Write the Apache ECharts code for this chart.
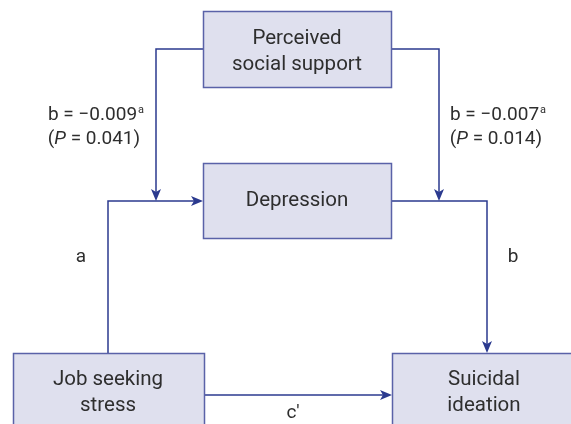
<!DOCTYPE html>
<html>
<head>
<meta charset="utf-8">
<script src="https://cdn.jsdelivr.net/npm/echarts@6/dist/echarts.min.js"></script>
<style>
html,body{margin:0;padding:0;background:#fff;}
#main{width:571px;height:424px;}
</style>
</head>
<body>
<div id="main"></div>
<script>
// ---- Content (text) ----
const nodeNames = ['Perceived\nsocial support', 'Depression', 'Job seeking\nstress', 'Suicidal\nideation'];
const pathNames = ['a', 'b', 'c′'];
const moderationB = ['−0.009', '−0.007'];
const moderationP = ['0.041', '0.014'];
const moderationSup = ['a', 'a'];

// ---- Layout (diagram units on hidden axes) ----
const boxLayout = [
  [203, 11, 391, 87],
  [203, 163, 391, 238],
  [13, 353, 204, 440],
  [392, 353, 590, 440]
];
const textCenters = [[297, 52], [297, 201], [108, 393], [484, 393]];
const edgeLayout = [
  [[203, 49], [156, 49], [156, 201]],
  [[391, 49], [439, 49], [439, 201]],
  [[108, 353], [108, 201], [203, 201]],
  [[391, 201], [487, 201], [487, 353]],
  [[204, 395], [392, 395]]
];
const pathLabelPos = [[81, 257], [513, 257], [293, 413]];
const modLabelPos = [[96, 115], [498, 115]];

const BOX_FILL = '#dfe0ee';
const BOX_STROKE = '#5a62a8';
const LINE = '#2b3a8f';
const TEXT = '#2e2e2e';
const FONT = 'Roboto, "Noto Sans", sans-serif';

const chart = echarts.init(document.getElementById('main'), null, {renderer: 'canvas'});

const boxData = nodeNames.map((n, i) => ({value: [i], name: n}));
const edgeData = edgeLayout.map((e, i) => ({value: [i]}));

const option = {
  animation: false,
  grid: {left: 0, right: 0, top: 0, bottom: 0},
  xAxis: {type: 'value', min: 0, max: 571, show: false},
  yAxis: {type: 'value', min: 0, max: 424, inverse: true, show: false},
  series: [
    {
      type: 'custom',
      coordinateSystem: 'cartesian2d',
      data: edgeData,
      clip: false,
      renderItem: function (params, api) {
        const pts = edgeLayout[api.value(0)].map(p => api.coord(p));
        const n = pts.length;
        const a = pts[n - 2], b = pts[n - 1];
        const dx = b[0] - a[0], dy = b[1] - a[1];
        const len = Math.sqrt(dx * dx + dy * dy);
        const ux = dx / len, uy = dy / len;
        const L = 12, W = 5;
        const base = [b[0] - ux * L, b[1] - uy * L];
        const notch = [b[0] - ux * (L - 3), b[1] - uy * (L - 3)];
        const line = pts.slice(0, n - 1).concat([notch]);
        return {
          type: 'group',
          children: [
            {type: 'polyline', shape: {points: line}, style: {stroke: LINE, lineWidth: 1.5, fill: null}},
            {type: 'polygon', shape: {points: [b, [base[0] - uy * W, base[1] + ux * W], notch, [base[0] + uy * W, base[1] - ux * W]]}, style: {fill: LINE}}
          ]
        };
      }
    },
    {
      type: 'custom',
      coordinateSystem: 'cartesian2d',
      data: boxData,
      clip: false,
      renderItem: function (params, api) {
        const i = api.value(0);
        const bx = boxLayout[i];
        const p0 = api.coord([bx[0], bx[1]]);
        const p1 = api.coord([bx[2], bx[3]]);
        const c = api.coord(textCenters[i]);
        return {
          type: 'group',
          children: [
            {type: 'rect', shape: {x: p0[0] + 0.5, y: p0[1] + 0.5, width: p1[0] - p0[0], height: p1[1] - p0[1]},
             style: {fill: BOX_FILL, stroke: BOX_STROKE, lineWidth: 1.5}},
            {type: 'text', x: c[0], y: c[1],
             style: {text: nodeNames[i], fill: TEXT, font: '20.5px ' + FONT, align: 'center', verticalAlign: 'middle', lineHeight: 26}}
          ]
        };
      }
    },
    {
      type: 'custom',
      coordinateSystem: 'cartesian2d',
      data: pathNames.map((n, i) => ({value: [i]})),
      clip: false,
      renderItem: function (params, api) {
        const i = api.value(0);
        const c = api.coord(pathLabelPos[i]);
        return {type: 'text', x: c[0], y: c[1],
          style: {text: pathNames[i], fill: TEXT, font: '19px ' + FONT, align: 'center', verticalAlign: 'middle'}};
      }
    },
    {
      type: 'custom',
      coordinateSystem: 'cartesian2d',
      data: moderationB.map((n, i) => ({value: [i]})),
      clip: false,
      renderItem: function (params, api) {
        const i = api.value(0);
        const c = api.coord(modLabelPos[i]);
        return {
          type: 'group',
          children: [
            {type: 'text', x: c[0], y: c[1],
             style: {text: '{n|b = ' + moderationB[i] + '}{s|' + moderationSup[i] + '}', align: 'center', verticalAlign: 'middle',
               rich: {n: {fill: TEXT, font: '19px ' + FONT}, s: {fill: TEXT, font: '11px ' + FONT, padding: [0, 0, 9, 1]}}}},
            {type: 'text', x: c[0] - 2, y: c[1] + 24,
             style: {text: '{n|(}{i|P}{n| = ' + moderationP[i] + ')}', align: 'center', verticalAlign: 'middle',
               rich: {n: {fill: TEXT, font: '19px ' + FONT}, i: {fill: TEXT, font: 'italic 19px ' + FONT}}}}
          ]
        };
      }
    }
  ]
};
chart.setOption(option);
</script>
</body>
</html>
